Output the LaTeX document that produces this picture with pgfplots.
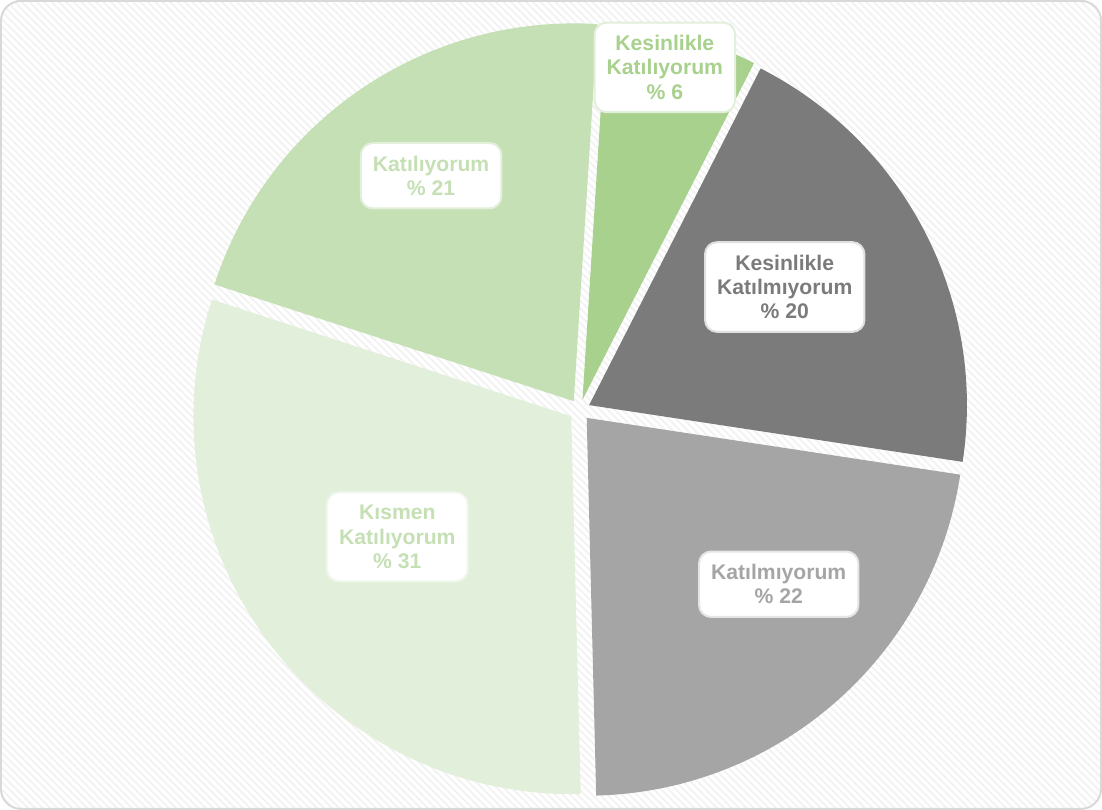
\documentclass[border=0pt]{standalone}
\usepackage{pgfplots}
\pgfplotsset{compat=1.18}
\usepackage{pgfplotstable}
\usepackage{fontspec}
\setmainfont{Liberation Sans}
\usetikzlibrary{patterns.meta}
\definecolor{cA}{HTML}{A9D18E}
\definecolor{cB}{HTML}{7B7B7B}
\definecolor{cC}{HTML}{A5A5A5}
\definecolor{cD}{HTML}{E2EFDA}
\definecolor{cE}{HTML}{C5E0B4}
\definecolor{frame}{HTML}{D9D9D9}

% slice values (percent), clockwise from the top
\pgfplotstableread{
value col
6.5  cA
19.9 cB
22.2 cC
30.4 cD
21.0 cE
}\piedata

\newcommand\pcx{579.5}
\newcommand\pcy{399}
\newcommand\pE{10.5}
\newcommand\pstart{86.4}
\newcommand\pR{187.5pt}

\tikzset{lbl/.style={fill=white,rounded corners=6pt,line width=1pt,
    inner xsep=6pt,inner ysep=6.4pt,align=center,
    font=\fontsize{10.5}{12}\selectfont\bfseries}}

\begin{document}
\begin{tikzpicture}
\begin{axis}[x=0.5pt,y=0.5pt,xmin=0,xmax=1102,ymin=0,ymax=807,
  hide axis,clip=false]
\draw[rounded corners=10pt,draw=frame,line width=1pt,
  pattern={Lines[angle=-45,distance=2.6pt,line width=0.9pt]},pattern color=black!5]
  (axis cs:5,3) rectangle (axis cs:1097,805);
\def\cum{0}
\pgfplotsforeachungrouped \i in {0,...,4}{%
  \pgfplotstablegetelem{\i}{value}\of\piedata \let\slval\pgfplotsretval
  \pgfplotstablegetelem{\i}{col}\of\piedata \let\slcol\pgfplotsretval
  \pgfmathsetmacro\sla{\pstart-3.6*\cum}%
  \pgfmathsetmacro\slb{\sla-3.6*\slval}%
  \pgfmathsetmacro\slm{(\sla+\slb)/2}%
  \pgfmathsetmacro\slox{\pcx+\pE*cos(\slm)}%
  \pgfmathsetmacro\sloy{\pcy+\pE*sin(\slm)}%
  \pgfmathsetmacro\cum{\cum+\slval}%
  \edef\temp{\noexpand\fill[\slcol] (axis cs:\slox,\sloy) -- ++(\sla:\pR)
    arc[start angle=\sla, end angle=\slb, radius=\pR] -- cycle;}%
  \temp
}
\node[lbl,draw=cD,text=cA] at (axis cs:664,739) {Kesinlikle\\Katılıyorum\\\% 6};
\node[lbl,draw=black!12,text=cB] at (axis cs:783,521) {Kesinlikle\\Katılmıyorum\\\% 20};
\node[lbl,draw=black!10,text=cC] at (axis cs:777,226) {Katılmıyorum\\\% 22};
\node[lbl,draw=cD!50,text=cE] at (axis cs:398.5,273) {Kısmen\\Katılıyorum\\\% 31};
\node[lbl,draw=cD,text=cE] at (axis cs:432,631.5) {Katılıyorum\\\% 21};
\end{axis}
\end{tikzpicture}
\end{document}
